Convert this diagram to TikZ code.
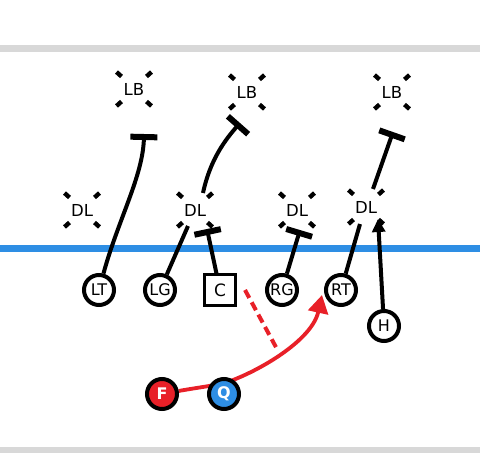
\documentclass[tikz,border=0pt]{standalone}
\usepackage{fontspec}
\setmainfont{DejaVu Sans}
\usetikzlibrary{arrows.meta}
\pgfdeclarelayer{background}
\pgfsetlayers{background,main}
\definecolor{fieldblue}{RGB}{46,142,228}
\definecolor{playred}{RGB}{232,32,40}
\definecolor{bargray}{RGB}{216,216,216}
\tikzset{
  x=1pt,y=-1pt,
  defender/.style={inner sep=0pt, font=\fontsize{16.5}{16.5}\selectfont},
  player/.style={circle, draw=black, line width=4pt, fill=white, minimum size=30pt, inner sep=0pt, font=\fontsize{16}{16}\selectfont},
  center/.style={rectangle, draw=black, line width=2.4pt, fill=white, minimum size=31pt, inner sep=0pt, font=\fontsize{17}{17}\selectfont},
  back/.style={player, text=white, font=\fontsize{16}{16}\selectfont\bfseries},
  dmark/.style={line width=4.4pt},
  route/.style={line width=4pt, black},
  block/.style={route, -{Bar[width=27pt,line width=6pt]}},
}
\newcommand\dlmarks[1]{%
  \foreach \sx/\sy in {-1/-1,1/-1,-1/1,1/1}{
    \draw[dmark] ([shift={(\sx*12.5,\sy*12.5)}]#1.center) -- ++(\sx*5,\sy*4.5);
  }}
\begin{document}
\begin{tikzpicture}
\useasboundingbox (0,0) rectangle (480,475);
% field
\fill[bargray] (0,45) rectangle (480,52);
\fill[bargray] (0,447) rectangle (480,453);
\fill[fieldblue] (0,245) rectangle (480,252);
% defenders
\node[defender] (LB1) at (134,89) {LB};
\node[defender] (LB2) at (247,92) {LB};
\node[defender] (LB3) at (392,92) {LB};
\node[defender] (DL1) at (82,210) {DL};
\node[defender] (DL2) at (195,210) {DL};
\node[defender] (DL3) at (297,210) {DL};
\node[defender] (DL4) at (366,207) {DL};
\dlmarks{LB1}\dlmarks{LB2}\dlmarks{LB3}
\dlmarks{DL1}\dlmarks{DL2}\dlmarks{DL3}\dlmarks{DL4}
% offense
\node[player] (LT) at (99,290) {LT};
\node[player] (LG) at (160,290) {LG};
\node[center] (C) at (220,290) {C};
\node[player] (RG) at (282,290) {RG};
\node[player] (RT) at (341,290) {RT};
\node[player] (H) at (384,326) {H};
\node[back, fill=playred] (F) at (162,394) {F};
\node[back, fill=fieldblue] (Q) at (224,394) {Q};
% route end points
\coordinate (bLB1) at (144,134);
\coordinate (eLG) at (188,226);
\coordinate (bDL2) at (207,229);
\coordinate (sDL2) at (203,193);
\coordinate (bLB2) at (240,123);
\coordinate (bDL3) at (300,230);
\coordinate (eRT) at (360,224);
\coordinate (aDL4) at (378,219);
\coordinate (sDL4) at (373,189);
\coordinate (bLB3) at (393,132);
\coordinate (dA) at (245,290);
\coordinate (dB) at (277,349);
\coordinate (mQ) at (225,383);
\coordinate (aRT) at (322,295);
% blocks and routes
\draw[block] (LT) .. controls (118,220) and (143,176) .. (bLB1);
\draw[route] (LG) -- (eLG);
\draw[block] (C) -- (bDL2);
\draw[block] (sDL2) .. controls (210,160) and (225,140) .. (bLB2);
\draw[block] (RG) -- (bDL3);
\draw[route] (RT) -- (eRT);
\draw[route, -{Triangle[length=13pt,width=13pt]}] (H) -- (aDL4);
\draw[block] (sDL4) -- (bLB3);
% QB action
\draw[playred, line width=4pt, dash pattern=on 9pt off 5pt] (dA) -- (dB);
\begin{pgfonlayer}{background}
\draw[playred, line width=3.8pt, -{Triangle[length=18pt,width=20pt]}] (F) .. controls (195,388) and (205,387) .. (mQ) .. controls (260,371) and (312,340) .. (aRT);
\end{pgfonlayer}
\end{tikzpicture}
\end{document}
